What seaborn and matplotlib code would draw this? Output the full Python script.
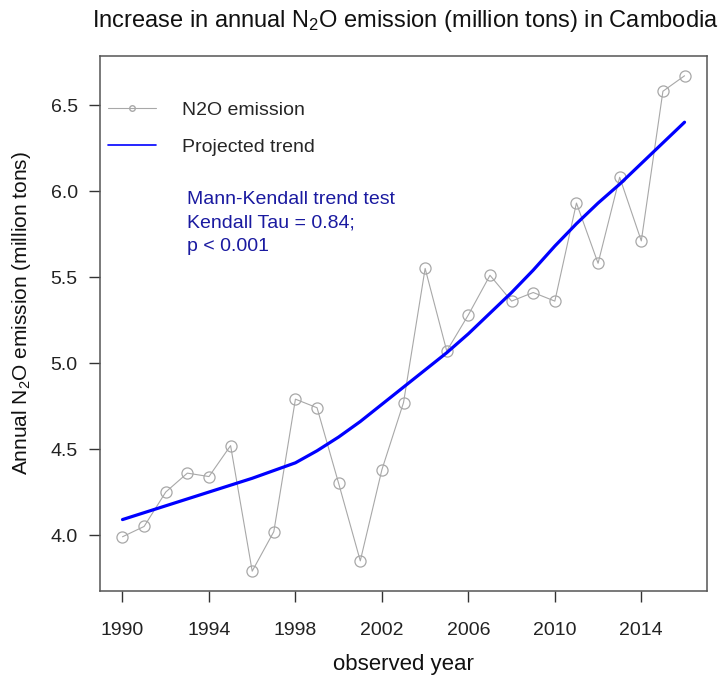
import matplotlib
matplotlib.use("Agg")
import matplotlib.pyplot as plt
from matplotlib.lines import Line2D
import seaborn as sns
import pandas as pd

# Annual N2O emission in Cambodia (million tons) and the smoothed trend
years = list(range(1990, 2017))
emission = [3.99, 4.05, 4.25, 4.36, 4.34, 4.52, 3.79, 4.02, 4.79,
            4.74, 4.30, 3.85, 4.38, 4.77, 5.55, 5.07, 5.28, 5.51,
            5.36, 5.41, 5.36, 5.93, 5.58, 6.08, 5.71, 6.58, 6.67]
trend = [4.09, 4.13, 4.17, 4.21, 4.25, 4.29, 4.33, 4.375, 4.42,
         4.49, 4.57, 4.66, 4.76, 4.86, 4.96, 5.06, 5.17, 5.29,
         5.41, 5.54, 5.68, 5.81, 5.93, 6.04, 6.16, 6.28, 6.40]
x_ticks = [1990, 1994, 1998, 2002, 2006, 2010, 2014]
y_ticks = [4.0, 4.5, 5.0, 5.5, 6.0, 6.5]

df = pd.DataFrame({"year": years, "emission": emission, "trend": trend})

sns.set_theme(style="white")
plt.rcParams["font.family"] = ["Liberation Sans", "DejaVu Sans"]
plt.rcParams["mathtext.fontset"] = "custom"
plt.rcParams["mathtext.rm"] = "Liberation Sans"
plt.rcParams["mathtext.it"] = "Liberation Sans"

fig = plt.figure(figsize=(7.18, 6.80), dpi=100)
ax = fig.add_axes([0.1393, 0.1309, 0.8454, 0.7868])

grey = "#a8a8a8"
sns.lineplot(data=df, x="year", y="emission", ax=ax, color=grey, lw=0.8,
             marker="o", markersize=8, markerfacecolor="none",
             markeredgecolor=grey, markeredgewidth=0.9)
sns.lineplot(data=df, x="year", y="trend", ax=ax, color="#0000ff", lw=2.3)

# R-style axis limits: 4% padding around the data range
xr = years[-1] - years[0]
ax.set_xlim(years[0] - 0.04 * xr, years[-1] + 0.04 * xr)
ymin, ymax = min(emission), max(emission)
yr = ymax - ymin
ax.set_ylim(ymin - 0.04 * yr, ymax + 0.04 * yr)

ax.set_xticks(x_ticks)
ax.set_xticklabels([str(v) for v in x_ticks])
ax.set_yticks(y_ticks)
ax.set_yticklabels([f"{v:.1f}" for v in y_ticks])
ax.tick_params(axis="both", which="both", direction="out", length=8,
               width=1, color="#333333", labelsize=14, labelcolor="#222222",
               bottom=True, left=True)
ax.tick_params(axis="x", pad=14)
ax.tick_params(axis="y", pad=8)

for s in ax.spines.values():
    s.set_visible(True)
    s.set_color("#555555")
    s.set_linewidth(1.1)

ax.set_xlabel("observed year", fontsize=16, color="#111111")
ax.set_ylabel("Annual N$_2$O emission (million tons)", fontsize=15,
              color="#111111")
ax.xaxis.set_label_coords(0.5, -0.117)
ax.yaxis.set_label_coords(-0.11, 0.52)
ax.set_title("Increase in annual N$_2$O emission (million tons) in Cambodia",
             fontsize=17, pad=21, color="#111111", x=0.503)

handles = [
    Line2D([], [], color=grey, lw=0.8, marker="o", markersize=4,
           markerfacecolor="none", markeredgecolor=grey),
    Line2D([], [], color="#0000ff", lw=1.2),
]
ax.legend(handles, ["N2O emission", "Projected trend"], loc="upper left",
          bbox_to_anchor=(0.0, 0.930), frameon=False, fontsize=14,
          handlelength=2.5, handletextpad=1.3, labelspacing=1.0,
          borderaxespad=0.0, borderpad=0.4)

ax.text(0.143, 0.747, "Mann-Kendall trend test\nKendall Tau = 0.84;\np < 0.001",
        transform=ax.transAxes, fontsize=14, color="#1a1aa0",
        va="top", ha="left", linespacing=1.5)

fig.savefig("out.png", dpi=100)
